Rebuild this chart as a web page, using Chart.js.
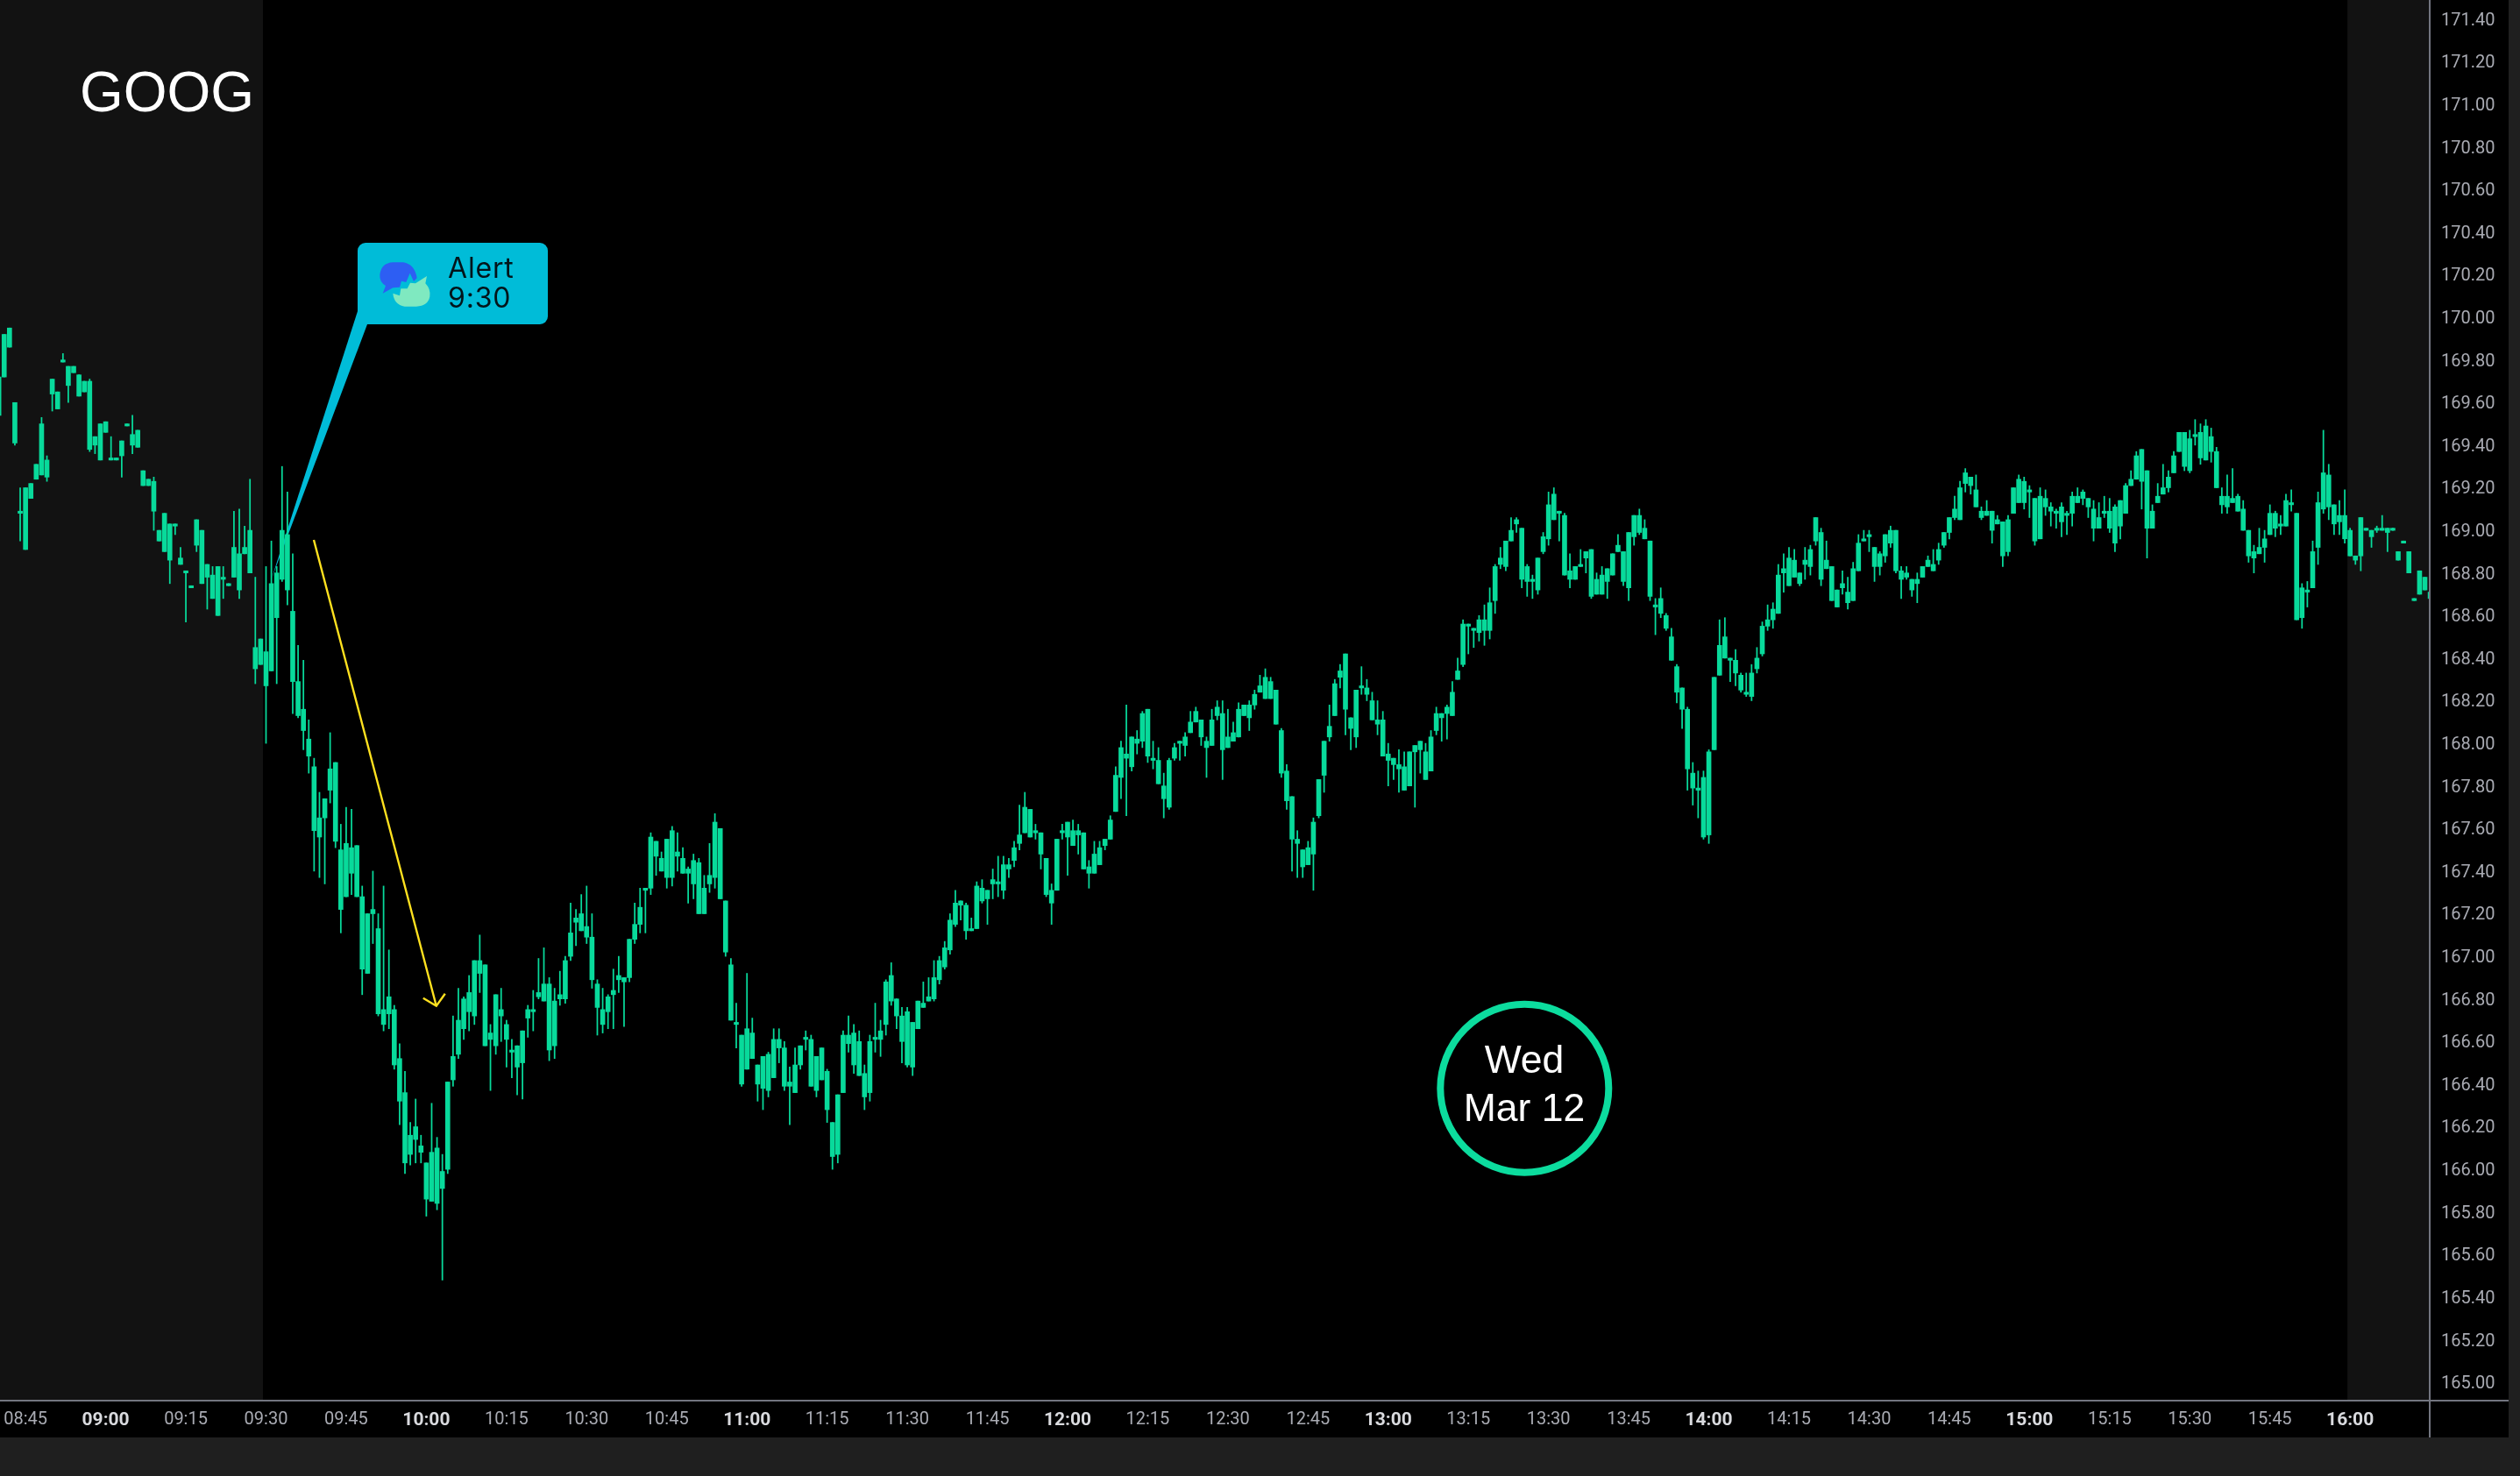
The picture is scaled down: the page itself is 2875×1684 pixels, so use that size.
<!DOCTYPE html>
<html>
<head>
<meta charset="utf-8">
<title>GOOG</title>
<script src="https://cdn.jsdelivr.net/npm/chart.js@4"></script>
<style>
    html, body { margin: 0; padding: 0; background: #1f1f1f; overflow: hidden; }
    canvas { display: block; }
</style>
</head>
<body>
<canvas id="myChart" width="2875" height="1684"></canvas>
<script>
// one candle per minute, 08:40 to 16:15
const firstMinute = 520

const bodyHigh = [
    169.72,169.92,169.95,169.60,169.09,169.20,169.22,169.31,169.50,169.33,
    169.71,169.65,169.80,169.77,169.77,169.73,169.70,169.70,169.44,169.50,
    169.51,169.34,169.34,169.42,169.50,169.45,169.47,169.28,169.24,169.23,
    169.00,169.08,169.03,169.03,168.87,168.81,168.74,169.05,169.00,168.84,
    168.79,168.83,168.78,168.75,168.92,168.89,168.92,169.00,168.45,168.49,
    168.43,168.75,168.80,169.00,168.98,168.62,168.29,168.16,168.02,167.89,
    167.65,167.74,167.88,167.91,167.50,167.53,167.51,167.52,167.28,167.20,
    167.22,167.13,166.75,166.81,166.75,166.52,166.36,166.16,166.20,166.11,
    166.03,166.08,166.10,165.99,166.41,166.53,166.70,166.80,166.83,166.98,
    166.98,166.96,166.64,166.82,166.75,166.68,166.56,166.58,166.65,166.75,
    166.75,166.83,166.87,166.87,166.79,166.82,166.98,167.11,167.18,167.20,
    167.14,167.09,166.87,166.75,166.81,166.84,166.91,166.90,167.08,167.15,
    167.23,167.32,167.56,167.54,167.46,167.55,167.59,167.49,167.46,167.41,
    167.45,167.44,167.32,167.38,167.63,167.60,167.26,166.96,166.69,166.63,
    166.66,166.64,166.49,166.53,166.54,166.61,166.61,166.57,166.41,166.49,
    166.58,166.62,166.61,166.53,166.57,166.46,166.22,166.35,166.63,166.63,
    166.64,166.60,166.45,166.60,166.62,166.65,166.88,166.91,166.80,166.72,
    166.74,166.69,166.79,166.78,166.81,166.90,166.98,167.04,167.17,167.25,
    167.26,167.24,167.13,167.33,167.32,167.31,167.36,167.35,167.43,167.43,
    167.51,167.57,167.70,167.69,167.59,167.58,167.46,167.31,167.55,167.59,
    167.63,167.59,167.59,167.58,167.42,167.48,167.51,167.55,167.64,167.85,
    167.98,167.95,168.03,168.02,168.14,168.16,167.93,167.92,167.80,167.92,
    167.98,168.01,168.03,168.10,168.15,168.11,168.01,168.11,168.17,168.14,
    168.03,168.05,168.16,168.18,168.18,168.23,168.27,168.31,168.29,168.25,
    168.06,167.87,167.75,167.55,167.50,167.51,167.63,167.83,168.01,168.08,
    168.28,168.34,168.42,168.12,168.25,168.27,168.26,168.20,168.11,168.11,
    167.95,167.93,167.90,167.89,167.96,167.99,168.01,167.96,168.03,168.14,
    168.14,168.17,168.24,168.34,168.56,168.56,168.54,168.58,168.58,168.66,
    168.83,168.87,168.95,169.00,169.05,169.01,168.83,168.77,168.87,168.97,
    169.12,169.17,169.09,169.07,168.81,168.83,168.84,168.90,168.91,168.77,
    168.79,168.82,168.89,168.93,168.90,168.99,169.07,169.07,169.01,168.95,
    168.65,168.68,168.60,168.50,168.36,168.26,168.16,167.86,167.79,167.84,
    167.96,168.31,168.46,168.50,168.40,168.39,168.32,168.24,168.33,168.40,
    168.55,168.58,168.63,168.79,168.82,168.87,168.86,168.80,168.86,168.91,
    169.06,168.99,168.86,168.83,168.72,168.75,168.71,168.82,168.94,168.96,
    168.98,168.92,168.89,168.98,169.00,169.00,168.81,168.80,168.77,168.77,
    168.83,168.86,168.84,168.91,168.99,169.06,169.10,169.20,169.27,169.25,
    169.19,169.09,169.09,169.09,169.05,169.04,169.05,169.20,169.24,169.23,
    169.19,169.15,169.16,169.15,169.11,169.09,169.11,169.08,169.16,169.16,
    169.18,169.15,169.10,169.06,169.09,169.09,169.11,169.14,169.21,169.24,
    169.35,169.38,169.28,169.09,169.16,169.20,169.25,169.35,169.46,169.46,
    169.43,169.45,169.46,169.49,169.44,169.37,169.16,169.16,169.15,169.16,
    169.10,169.00,168.90,168.92,168.96,169.08,169.08,169.03,169.14,169.13,
    169.08,168.73,168.72,168.90,169.13,169.27,169.26,169.12,169.07,169.07,
    169.00,168.88,169.06,169.01,169.00,169.01,169.01,169.01,169.01,168.90,
    168.95,168.90,168.68,168.81,168.78,168.71
]

const bodyLow = [
    169.54,169.72,169.86,169.41,169.08,168.91,169.15,169.24,169.26,169.25,
    169.64,169.57,169.79,169.68,169.74,169.63,169.65,169.38,169.40,169.33,
    169.46,169.33,169.33,169.35,169.49,169.40,169.39,169.21,169.21,169.09,
    168.95,168.90,168.86,169.02,168.84,168.80,168.73,168.93,168.75,168.78,
    168.68,168.60,168.77,168.74,168.78,168.72,168.89,168.80,168.35,168.37,
    168.27,168.34,168.59,168.77,168.72,168.29,168.13,168.06,167.94,167.59,
    167.56,167.65,167.78,167.54,167.22,167.28,167.39,167.28,166.94,166.92,
    167.20,166.73,166.68,166.73,166.49,166.32,166.03,166.07,166.14,166.08,
    165.86,165.85,165.84,165.91,166.00,166.42,166.54,166.66,166.74,166.72,
    166.92,166.58,166.61,166.58,166.72,166.61,166.55,166.48,166.50,166.71,
    166.74,166.81,166.79,166.56,166.58,166.80,166.80,167.00,167.16,167.12,
    167.09,166.89,166.76,166.68,166.74,166.82,166.89,166.88,166.90,167.08,
    167.15,167.31,167.32,167.47,167.40,167.37,167.37,167.47,167.39,167.39,
    167.34,167.20,167.20,167.34,167.37,167.27,167.02,166.70,166.68,166.40,
    166.47,166.52,166.40,166.38,166.37,166.43,166.57,166.39,166.39,166.36,
    166.49,166.61,166.39,166.37,166.42,166.28,166.06,166.07,166.36,166.59,
    166.49,166.44,166.34,166.36,166.61,166.61,166.68,166.79,166.72,166.60,
    166.49,166.48,166.66,166.76,166.79,166.80,166.89,166.95,167.03,167.15,
    167.24,167.12,167.12,167.13,167.26,167.27,167.34,167.34,167.31,167.41,
    167.45,167.53,167.58,167.56,167.58,167.48,167.29,167.25,167.31,167.58,
    167.56,167.52,167.57,167.41,167.39,167.39,167.43,167.52,167.55,167.68,
    167.84,167.93,167.89,168.00,168.01,167.94,167.92,167.81,167.74,167.70,
    167.93,168.00,167.99,168.05,168.10,168.03,167.98,167.99,168.13,167.97,
    167.98,168.01,168.03,168.13,168.12,168.18,168.24,168.21,168.21,168.09,
    167.86,167.73,167.55,167.53,167.42,167.43,167.48,167.66,167.85,168.03,
    168.13,168.31,168.16,168.07,168.03,168.26,168.23,168.11,168.09,167.94,
    167.92,167.90,167.88,167.78,167.80,167.96,167.97,167.83,167.87,168.06,
    168.12,168.14,168.13,168.30,168.37,168.55,168.53,168.52,168.53,168.53,
    168.67,168.84,168.83,168.95,169.03,168.77,168.76,168.76,168.72,168.90,
    168.96,169.05,169.08,168.79,168.77,168.77,168.83,168.87,168.69,168.70,
    168.70,168.76,168.79,168.90,168.76,168.73,168.97,168.99,168.96,168.69,
    168.64,168.61,168.54,168.39,168.24,168.16,167.88,167.79,167.78,167.56,
    167.57,167.97,168.32,168.40,168.39,168.33,168.25,168.23,168.22,168.35,
    168.42,168.55,168.58,168.61,168.80,168.74,168.78,168.75,168.84,168.83,
    168.95,168.77,168.82,168.67,168.64,168.73,168.66,168.67,168.81,168.95,
    168.97,168.83,168.83,168.88,168.94,168.81,168.77,168.78,168.72,168.75,
    168.78,168.83,168.81,168.86,168.93,168.99,169.06,169.05,169.22,169.21,
    169.11,169.06,169.07,169.00,169.03,168.88,168.90,169.08,169.13,169.13,
    169.18,168.95,168.96,169.11,169.09,169.08,169.04,169.07,169.08,169.13,
    169.15,169.11,169.01,169.01,169.08,169.01,168.94,169.02,169.08,169.21,
    169.24,169.23,169.01,169.01,169.13,169.17,169.20,169.27,169.37,169.30,
    169.28,169.44,169.34,169.33,169.37,169.20,169.12,169.11,169.13,169.09,
    169.00,168.88,168.87,168.89,168.92,168.98,169.01,169.02,169.02,169.12,
    168.58,168.59,168.71,168.73,168.92,169.10,169.11,169.03,169.04,168.96,
    168.88,168.86,168.88,169.00,168.97,169.00,169.00,168.99,169.00,168.86,
    168.94,168.80,168.67,168.70,168.72,168.68
]

const wickHigh = [
    169.72,169.92,169.95,169.60,169.20,169.20,169.22,169.31,169.53,169.35,
    169.71,169.65,169.83,169.77,169.77,169.73,169.70,169.71,169.44,169.50,
    169.51,169.44,169.34,169.42,169.50,169.54,169.47,169.28,169.24,169.25,
    169.00,169.08,169.03,169.03,168.92,168.81,168.74,169.05,169.00,168.84,
    168.83,168.83,168.83,168.75,169.09,169.10,169.02,169.24,168.78,168.49,
    168.83,168.95,168.83,169.30,169.18,168.89,168.46,168.39,168.11,167.93,
    167.77,167.74,168.05,167.91,167.62,167.70,167.69,167.52,167.33,167.20,
    167.40,167.20,167.33,167.03,166.77,166.59,166.46,166.22,166.33,166.16,
    166.03,166.31,166.15,166.07,166.41,166.72,166.85,166.81,166.91,166.98,
    167.10,166.96,166.68,166.82,166.85,166.70,166.61,166.58,166.65,166.77,
    166.84,166.99,167.04,166.90,166.85,166.93,167.00,167.25,167.22,167.29,
    167.33,167.20,166.89,166.85,166.82,166.94,167.00,166.90,167.08,167.25,
    167.32,167.32,167.58,167.54,167.49,167.55,167.61,167.58,167.51,167.42,
    167.48,167.46,167.38,167.53,167.67,167.60,167.26,166.99,166.78,166.63,
    166.92,166.71,166.49,166.53,166.55,166.66,166.66,166.60,166.48,166.57,
    166.58,166.65,166.63,166.53,166.57,166.47,166.22,166.35,166.65,166.72,
    166.68,166.65,166.49,166.63,166.78,166.70,166.89,166.97,166.80,166.76,
    166.76,166.69,166.79,166.88,166.90,166.98,167.00,167.07,167.20,167.31,
    167.26,167.25,167.18,167.35,167.36,167.31,167.41,167.47,167.47,167.46,
    167.54,167.71,167.77,167.69,167.62,167.58,167.46,167.34,167.55,167.62,
    167.63,167.64,167.62,167.58,167.45,167.54,167.54,167.55,167.66,167.89,
    168.01,168.18,168.03,168.06,168.15,168.16,168.01,167.98,167.86,167.93,
    168.00,168.01,168.05,168.15,168.17,168.11,168.03,168.16,168.20,168.20,
    168.16,168.10,168.19,168.18,168.20,168.25,168.32,168.35,168.31,168.25,
    168.07,167.90,167.75,167.59,167.50,167.54,167.65,167.83,168.01,168.18,
    168.30,168.37,168.42,168.12,168.25,168.36,168.30,168.24,168.20,168.15,
    168.00,167.93,167.97,167.96,167.96,167.99,168.01,168.00,168.06,168.17,
    168.14,168.18,168.29,168.40,168.58,168.56,168.54,168.60,168.65,168.73,
    168.84,168.92,168.95,169.06,169.06,169.01,168.84,168.79,168.87,168.99,
    169.18,169.20,169.09,169.08,168.89,168.83,168.91,168.90,168.91,168.80,
    168.83,168.82,168.89,168.98,168.90,168.99,169.07,169.10,169.05,168.95,
    168.68,168.73,168.61,168.54,168.37,168.26,168.17,167.91,167.87,167.87,
    167.97,168.31,168.58,168.59,168.40,168.44,168.33,168.33,168.37,168.45,
    168.57,168.65,168.66,168.84,168.89,168.92,168.91,168.80,168.92,168.93,
    169.06,169.01,168.95,168.83,168.72,168.81,168.78,168.85,168.98,169.00,
    169.00,168.92,168.90,168.98,169.02,169.00,168.83,168.83,168.77,168.80,
    168.83,168.88,168.91,168.94,168.99,169.06,169.16,169.23,169.29,169.25,
    169.26,169.11,169.14,169.09,169.07,169.04,169.07,169.20,169.26,169.25,
    169.21,169.15,169.20,169.19,169.13,169.10,169.13,169.09,169.18,169.20,
    169.19,169.15,169.14,169.13,169.16,169.15,169.12,169.14,169.22,169.28,
    169.37,169.38,169.28,169.12,169.22,169.31,169.28,169.37,169.46,169.46,
    169.47,169.52,169.50,169.52,169.48,169.39,169.20,169.26,169.29,169.17,
    169.14,169.00,168.93,169.01,169.00,169.12,169.09,169.07,169.17,169.19,
    169.08,168.75,168.76,168.95,169.18,169.47,169.31,169.12,169.14,169.19,
    169.01,168.88,169.06,169.01,169.00,169.02,169.07,169.01,169.01,168.90,
    168.95,168.90,168.68,168.81,168.78,168.71
]

const wickLow = [
    169.54,169.72,169.86,169.40,168.95,168.91,169.15,169.24,169.26,169.23,
    169.56,169.57,169.79,169.60,169.74,169.63,169.65,169.37,169.36,169.33,
    169.46,169.33,169.33,169.25,169.49,169.36,169.39,169.21,169.21,169.00,
    168.95,168.90,168.75,168.98,168.84,168.57,168.73,168.90,168.75,168.63,
    168.68,168.60,168.68,168.74,168.78,168.68,168.89,168.80,168.28,168.37,
    168.00,168.34,168.28,168.76,168.65,168.14,168.12,167.97,167.86,167.40,
    167.37,167.34,167.72,167.51,167.11,167.28,167.29,167.28,166.82,166.92,
    167.06,166.72,166.65,166.66,166.47,166.21,165.98,166.02,166.03,166.03,
    165.78,165.85,165.81,165.48,165.98,166.39,166.52,166.61,166.65,166.68,
    166.83,166.58,166.37,166.54,166.60,166.48,166.43,166.35,166.33,166.62,
    166.65,166.80,166.79,166.51,166.52,166.77,166.78,166.98,167.05,167.12,
    167.06,166.85,166.63,166.64,166.66,166.66,166.83,166.67,166.88,167.06,
    167.11,167.11,167.29,167.38,167.40,167.32,167.33,167.40,167.39,167.25,
    167.27,167.20,167.20,167.30,167.32,167.27,167.00,166.70,166.57,166.39,
    166.47,166.52,166.32,166.28,166.34,166.43,166.50,166.37,166.21,166.36,
    166.47,166.56,166.39,166.34,166.42,166.22,166.00,166.03,166.36,166.55,
    166.45,166.44,166.28,166.32,166.55,166.53,166.63,166.77,166.66,166.50,
    166.48,166.44,166.66,166.76,166.79,166.79,166.87,166.94,167.01,167.14,
    167.17,167.08,167.12,167.13,167.25,167.15,167.27,167.28,167.27,167.37,
    167.42,167.50,167.58,167.56,167.55,167.41,167.28,167.15,167.31,167.55,
    167.38,167.52,167.48,167.41,167.32,167.39,167.43,167.50,167.55,167.68,
    167.74,167.66,167.87,167.95,167.98,167.91,167.88,167.81,167.65,167.69,
    167.92,167.92,167.94,168.05,168.10,167.99,167.84,167.99,168.11,167.83,
    167.98,168.01,168.03,168.13,168.06,168.16,168.24,168.21,168.21,168.09,
    167.84,167.69,167.40,167.37,167.37,167.43,167.31,167.65,167.77,168.01,
    168.13,168.26,168.04,167.97,167.98,168.23,168.20,168.11,168.04,167.94,
    167.80,167.83,167.77,167.78,167.80,167.70,167.86,167.83,167.87,168.04,
    168.01,168.02,168.13,168.30,168.36,168.42,168.45,168.48,168.46,168.49,
    168.61,168.82,168.81,168.95,168.99,168.73,168.69,168.68,168.70,168.89,
    168.93,169.05,168.95,168.79,168.73,168.77,168.83,168.80,168.68,168.70,
    168.70,168.68,168.79,168.90,168.74,168.67,168.93,168.98,168.96,168.67,
    168.51,168.59,168.53,168.39,168.19,168.07,167.78,167.71,167.65,167.55,
    167.53,167.97,168.32,168.40,168.29,168.27,168.24,168.22,168.20,168.33,
    168.41,168.53,168.54,168.61,168.71,168.74,168.78,168.74,168.77,168.79,
    168.93,168.74,168.82,168.67,168.64,168.70,168.63,168.67,168.81,168.95,
    168.90,168.76,168.79,168.85,168.92,168.80,168.68,168.77,168.69,168.66,
    168.78,168.83,168.81,168.84,168.92,168.96,169.05,169.05,169.18,169.17,
    169.11,169.05,169.07,168.94,169.03,168.83,168.88,169.08,169.13,169.10,
    169.06,168.93,168.96,169.07,169.02,169.01,168.97,168.98,169.02,169.13,
    169.12,169.06,168.95,169.01,169.06,168.99,168.90,168.96,169.08,169.21,
    169.24,169.10,168.87,169.01,169.13,169.17,169.18,169.27,169.37,169.28,
    169.27,169.40,169.31,169.33,169.32,169.20,169.08,169.08,169.13,169.09,
    169.00,168.85,168.80,168.89,168.85,168.98,168.97,168.98,169.02,169.09,
    168.58,168.54,168.64,168.73,168.84,169.08,169.05,168.98,168.98,168.94,
    168.88,168.84,168.81,169.00,168.92,168.99,169.00,168.90,169.00,168.86,
    168.94,168.80,168.67,168.70,168.72,168.68
]

const timeTicks = [
    '08:45', '09:00', '09:15', '09:30', '09:45', '10:00', '10:15', '10:30', '10:45', '11:00',
    '11:15', '11:30', '11:45', '12:00', '12:15', '12:30', '12:45', '13:00', '13:15', '13:30',
    '13:45', '14:00', '14:15', '14:30', '14:45', '15:00', '15:15', '15:30', '15:45', '16:00'
]

const priceTicks = [
    165.00, 165.20, 165.40, 165.60, 165.80, 166.00, 166.20, 166.40, 166.60, 166.80, 167.00,
    167.20, 167.40, 167.60, 167.80, 168.00, 168.20, 168.40, 168.60, 168.80, 169.00, 169.20,
    169.40, 169.60, 169.80, 170.00, 170.20, 170.40, 170.60, 170.80, 171.00, 171.20, 171.40
]

const extendedHours = [[520, 569.43], [959.5, 975]]

const green = '#08da9b'

const toMinute = (label) => {
    const [h, m] = label.split(':').map(Number)
    return h * 60 + m
}

const toLabel = (minute) => {
    const h = Math.floor(minute / 60)
    const m = minute % 60
    return String(h).padStart(2, '0') + ':' + String(m).padStart(2, '0')
}

const candles = (low, high) => low.map((val, i) => ({ x: firstMinute + i, y: [val, high[i]] }))

function alertIcon(ctx) {
    ctx.save()
    ctx.translate(380, 260)
    ctx.scale(1 / 3, 1 / 3)

    ctx.fillStyle = '#2d5ef3'
    ctx.beginPath()
    ctx.moveTo(170, 224)
    ctx.lineTo(180, 198)
    ctx.quadraticCurveTo(158, 185, 160, 160)
    ctx.quadraticCurveTo(165, 120, 205, 118)
    ctx.lineTo(240, 118)
    ctx.quadraticCurveTo(280, 125, 287, 172)
    ctx.lineTo(276, 183)
    ctx.lineTo(263, 155)
    ctx.lineTo(250, 186)
    ctx.lineTo(234, 182)
    ctx.lineTo(228, 203)
    ctx.lineTo(205, 205)
    ctx.closePath()
    ctx.fill()

    ctx.fillStyle = '#7fe9c0'
    ctx.beginPath()
    ctx.moveTo(321, 165)
    ctx.lineTo(316, 190)
    ctx.quadraticCurveTo(335, 210, 331, 235)
    ctx.quadraticCurveTo(325, 268, 285, 269)
    ctx.lineTo(245, 269)
    ctx.quadraticCurveTo(208, 262, 205, 224)
    ctx.lineTo(228, 232)
    ctx.lineTo(232, 208)
    ctx.lineTo(254, 208)
    ctx.lineTo(264, 188)
    ctx.lineTo(282, 190)
    ctx.closePath()
    ctx.fill()

    ctx.restore()
}

const panels = {
    id: 'panels',
    beforeDraw(chart) {
        const { ctx } = chart
        ctx.save()
        ctx.fillStyle = '#1f1f1f'
        ctx.fillRect(0, 0, chart.width, chart.height)
        ctx.fillStyle = '#000000'
        ctx.fillRect(0, 0, 2862, 1640)
        ctx.restore()
    },
    beforeDatasetsDraw(chart) {
        const { ctx, chartArea, scales } = chart
        ctx.save()
        ctx.fillStyle = '#121212'
        extendedHours.forEach(([from, to]) => {
            const left = Math.max(scales.x.getPixelForValue(from), chartArea.left)
            const right = Math.min(scales.x.getPixelForValue(to), chartArea.right)
            ctx.fillRect(left, chartArea.top, right - left, chartArea.bottom - chartArea.top)
        })

        // callout stem sits behind the candles
        const tipX = scales.x.getPixelForValue(571)
        const tipY = scales.y.getPixelForValue(168.77)
        ctx.fillStyle = '#00bcd8'
        ctx.beginPath()
        ctx.moveTo(408, 355)
        ctx.lineTo(tipX, tipY)
        ctx.lineTo(419, 370)
        ctx.closePath()
        ctx.fill()
        ctx.restore()
    },
    afterDatasetsDraw(chart) {
        const { ctx, chartArea, scales } = chart
        ctx.save()

        // axis frame
        ctx.strokeStyle = '#72757f'
        ctx.lineWidth = 2
        ctx.beginPath()
        ctx.moveTo(0, chartArea.bottom)
        ctx.lineTo(2862, chartArea.bottom)
        ctx.moveTo(chartArea.right, 0)
        ctx.lineTo(chartArea.right, 1640)
        ctx.stroke()

        // alert box
        ctx.fillStyle = '#00bcd8'
        ctx.beginPath()
        ctx.roundRect(408, 277, 217, 93, 9)
        ctx.fill()
        alertIcon(ctx)
        ctx.fillStyle = '#03141a'
        ctx.font = '32px Inter'
        ctx.letterSpacing = '0.8px'
        ctx.textAlign = 'left'
        ctx.textBaseline = 'alphabetic'
        ctx.fillText('Alert', 511, 317)
        ctx.fillText('9:30', 511, 351)
        ctx.letterSpacing = '0px'

        // yellow arrow
        const fromX = scales.x.getPixelForValue(578.94)
        const fromY = scales.y.getPixelForValue(168.955)
        const toX = scales.x.getPixelForValue(601.87)
        const toY = scales.y.getPixelForValue(166.767)
        ctx.strokeStyle = '#ffe11f'
        ctx.lineWidth = 2.4
        ctx.beginPath()
        ctx.moveTo(fromX, fromY)
        ctx.lineTo(toX, toY)
        ctx.moveTo(toX - 15, toY - 9)
        ctx.lineTo(toX, toY)
        ctx.lineTo(toX + 10, toY - 14)
        ctx.stroke()

        // ticker
        ctx.fillStyle = '#ffffff'
        ctx.font = '64px "Liberation Sans"'
        ctx.fillText('GOOG', 91, 127)

        // date badge
        ctx.strokeStyle = '#0cdc9e'
        ctx.lineWidth = 8
        ctx.beginPath()
        ctx.arc(1739.3, 1241.7, 96, 0, Math.PI * 2)
        ctx.stroke()
        ctx.fillStyle = '#ffffff'
        ctx.font = '44.5px "Liberation Sans"'
        ctx.textAlign = 'center'
        ctx.fillText('Wed', 1739, 1224)
        ctx.fillText('Mar 12', 1739, 1279)

        ctx.restore()
    }
}

const data = {
    datasets: [
        {
            data: candles(bodyLow, bodyHigh),
            backgroundColor: green,
            barThickness: 5,
            grouped: false,
        },
        {
            data: candles(wickLow, wickHigh),
            backgroundColor: green,
            barThickness: 1.1,
            grouped: false,
        }
    ]
}

const options = {
    responsive: false,
    animation: false,
    devicePixelRatio: 1,
    events: [],
    layout: {
        padding: { left: 0, top: 0, right: 13, bottom: 44 }
    },
    plugins: {
        legend: { display: false },
        tooltip: { enabled: false }
    },
    scales: {
        x: {
            type: 'linear',
            offset: false,
            min: 520.22,
            max: 974.9,
            grid: { display: false },
            border: { display: false },
            afterBuildTicks: (scale) => {
                scale.ticks = timeTicks.map((label) => ({ value: toMinute(label) }))
            },
            afterFit: (scale) => {
                scale.height = 42
                scale.paddingLeft = 0
                scale.paddingRight = 0
            },
            ticks: {
                autoSkip: false,
                maxRotation: 0,
                padding: 2,
                color: (c) => c.tick.value % 60 === 0 ? '#d9dade' : '#a9abb3',
                font: (c) => c.tick && c.tick.value % 60 === 0
                    ? { family: 'Roboto', size: 21, weight: 'bold' }
                    : { family: 'Roboto', size: 20, weight: 'normal' },
                callback: (val) => toLabel(val)
            }
        },
        y: {
            position: 'right',
            min: 164.914,
            max: 171.49,
            grid: { display: false },
            border: { display: false },
            afterBuildTicks: (scale) => {
                scale.ticks = priceTicks.map((val) => ({ value: val }))
            },
            afterFit: (scale) => {
                scale.width = 90
                scale.paddingTop = 0
                scale.paddingBottom = 0
            },
            ticks: {
                autoSkip: false,
                padding: 5,
                labelOffset: 2,
                crossAlign: 'near',
                color: '#a9abb3',
                font: { family: 'Roboto', size: 20 },
                callback: (val) => val.toFixed(2)
            }
        }
    }
}

new Chart(document.getElementById('myChart'), {
    type: 'bar',
    data: data,
    options: options,
    plugins: [panels]
})
</script>
</body>
</html>
